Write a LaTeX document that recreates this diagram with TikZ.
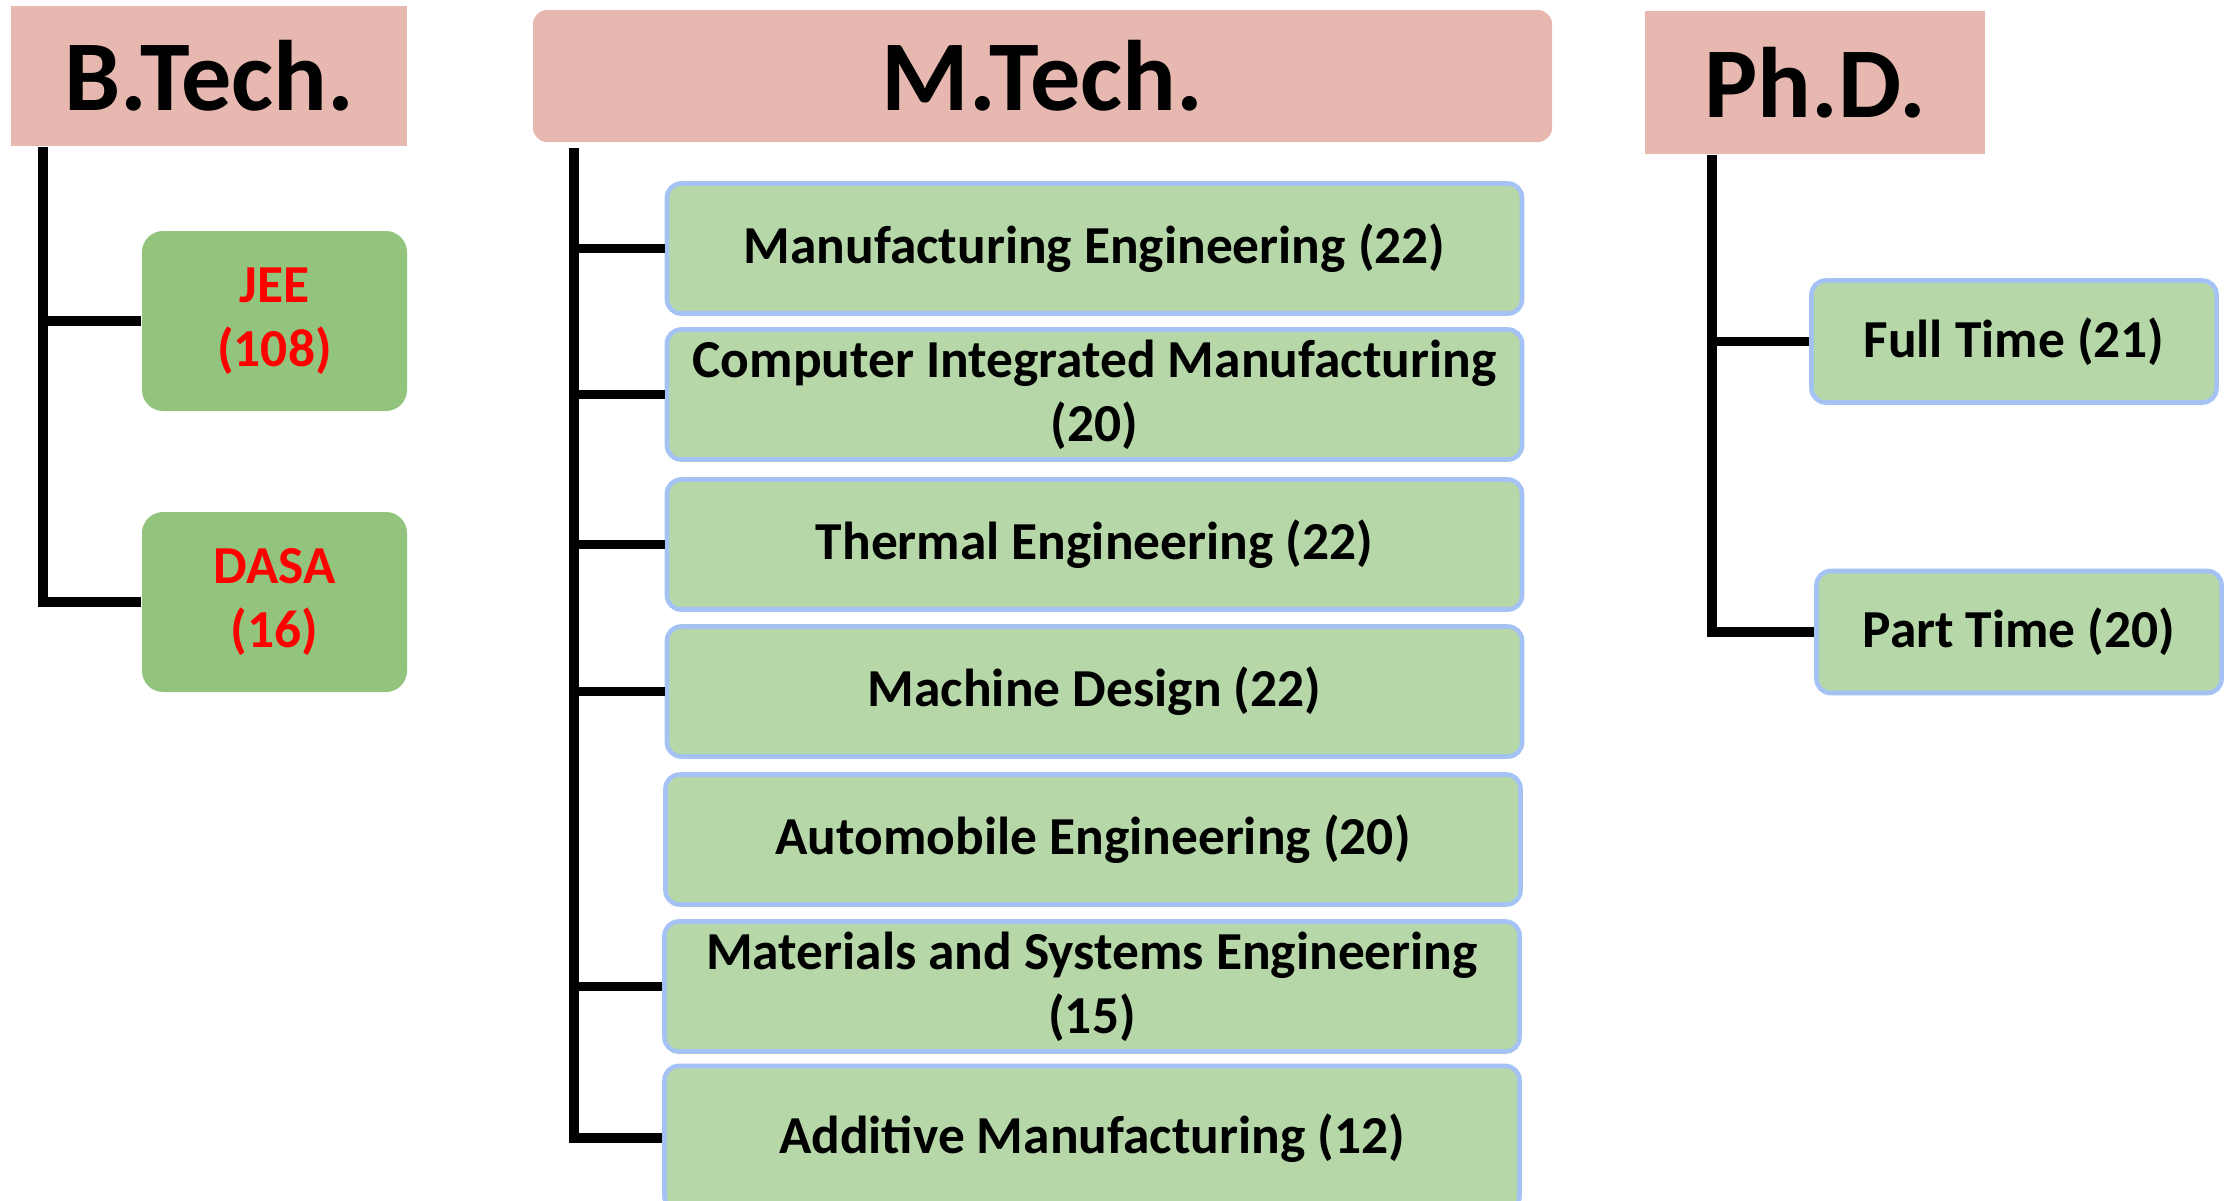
\documentclass[tikz,border=0pt]{standalone}
\usepackage{fontspec}
\setmainfont{Carlito}

\definecolor{headpink}{HTML}{E6B8AF}
\definecolor{quotagreen}{HTML}{93C47D}
\definecolor{coursegreen}{HTML}{B6D7A8}
\definecolor{courseblue}{HTML}{A4C2F4}

\tikzset{
  degreebox/.style={fill=headpink,inner sep=0pt,
    font=\fontsize{28.5}{32}\selectfont\bfseries},
  quotabox/.style={fill=quotagreen,rounded corners=6pt,inner sep=0pt,
    minimum width=2.65cm,minimum height=1.80cm,align=center,text=red,
    font=\fontsize{15.2}{18.3}\selectfont\bfseries},
  coursebox/.style={fill=coursegreen,draw=courseblue,line width=1.3pt,
    rounded corners=4pt,inner sep=0pt,minimum width=8.55cm,
    minimum height=1.30cm,align=center,
    font=\fontsize{15.2}{18.3}\selectfont\bfseries},
  branch/.style={line width=2.8pt}
}

\begin{document}
\begin{tikzpicture}
\clip (0,0) rectangle (22.29,-12);
% ---------- B.Tech. ----------
\node[degreebox,minimum width=3.96cm,minimum height=1.40cm] (btech) at (2.09,-0.76) {B.Tech.};
\node[quotabox] (jee) at (2.745,-3.21) {JEE\\(108)};
\node[quotabox] (dasa) at (2.745,-6.02) {DASA\\(16)};
\coordinate (bspine) at ([xshift=0.33cm]btech.south west);
\draw[branch] (bspine) |- (dasa.west);
\draw[branch] (bspine |- jee.west) -- (jee.west);
% ---------- M.Tech. ----------
\node[degreebox,rounded corners=4pt,minimum width=10.19cm,minimum height=1.32cm] (mtech) at (10.425,-0.76) {M.Tech.};
\node[coursebox] (manuf) at (10.945,-2.485) {Manufacturing Engineering (22)};
\node[coursebox] (cim) at (10.945,-3.945) {Computer Integrated Manufacturing\\(20)};
\node[coursebox] (thermal) at (10.945,-5.445) {Thermal Engineering (22)};
\node[coursebox] (design) at (10.945,-6.915) {Machine Design (22)};
\node[coursebox] (auto) at (10.930,-8.395) {Automobile Engineering (20)};
\node[coursebox] (mse) at (10.920,-9.865) {Materials and Systems Engineering\\(15)};
\node[coursebox,minimum height=1.44cm] (additive) at (10.920,-11.38) {Additive Manufacturing (12)};
\coordinate (mspine) at (5.74,-1.48);
\draw[branch] (mspine) |- (additive.west);
\draw[branch] (mspine |- manuf.west) -- (manuf.west);
\draw[branch] (mspine |- cim.west) -- (cim.west);
\draw[branch] (mspine |- thermal.west) -- (thermal.west);
\draw[branch] (mspine |- design.west) -- (design.west);
\draw[branch] (mspine |- mse.west) -- (mse.west);
% ---------- Ph.D. ----------
\node[degreebox,minimum width=3.40cm,minimum height=1.43cm] (phd) at (18.15,-0.825) {Ph.D.};
\node[coursebox,minimum width=4.05cm,minimum height=1.22cm] (fulltime) at (20.14,-3.415) {Full Time (21)};
\node[coursebox,minimum width=4.05cm,minimum height=1.22cm] (parttime) at (20.19,-6.32) {Part Time (20)};
\coordinate (pspine) at ([xshift=0.68cm]phd.south west);
\draw[branch] (pspine) |- (parttime.west);
\draw[branch] (pspine |- fulltime.west) -- (fulltime.west);
\end{tikzpicture}
\end{document}
